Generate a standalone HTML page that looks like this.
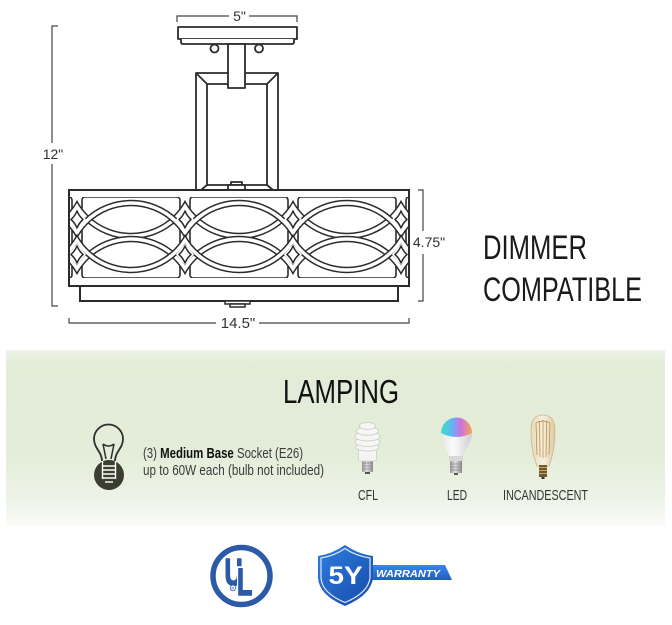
<!DOCTYPE html>
<html>
<head>
<meta charset="utf-8">
<style>
  html,body{margin:0;padding:0;background:#fff;}
  svg{display:block;}
  text{font-family:"Liberation Sans", sans-serif;}
</style>
</head>
<body>
<svg width="672" height="625" viewBox="0 0 672 625" xmlns="http://www.w3.org/2000/svg">
  <defs>
    <linearGradient id="green" x1="0" y1="0" x2="0" y2="1">
      <stop offset="0" stop-color="#eef3e8"/>
      <stop offset="0.08" stop-color="#e2ecd7"/>
      <stop offset="0.6" stop-color="#e4edd9"/>
      <stop offset="0.85" stop-color="#edf3e7"/>
      <stop offset="1" stop-color="#fbfcf9"/>
    </linearGradient>
    <clipPath id="band"><rect x="70" y="197" width="338" height="81"/></clipPath>
    <clipPath id="p0"><rect x="-31" y="190" width="108" height="96"/></clipPath>
    <clipPath id="p1"><rect x="77" y="190" width="108" height="96"/></clipPath>
    <clipPath id="p2"><rect x="185" y="190" width="108" height="96"/></clipPath>
    <clipPath id="p3"><rect x="293" y="190" width="108" height="96"/></clipPath>
    <clipPath id="p4"><rect x="401" y="190" width="108" height="96"/></clipPath>
    <g id="rings" fill="none">
      <circle cx="0" cy="172" r="64" stroke="#2b2b2b" stroke-width="6.5"/><circle cx="0" cy="172" r="64" stroke="#fff" stroke-width="3.5"/>
      <circle cx="0" cy="303" r="64" stroke="#2b2b2b" stroke-width="6.5"/><circle cx="0" cy="303" r="64" stroke="#fff" stroke-width="3.5"/>
      <circle cx="0" cy="267" r="64" stroke="#2b2b2b" stroke-width="6.5"/><circle cx="0" cy="267" r="64" stroke="#fff" stroke-width="3.5"/>
      <circle cx="0" cy="206" r="64" stroke="#2b2b2b" stroke-width="6.5"/><circle cx="0" cy="206" r="64" stroke="#fff" stroke-width="3.5"/>
    </g>
    <g id="diacover" fill="#fff">
      <polygon points="-9,219.5 0,209.5 9,219.5 0,229.5"/>
      <polygon points="-9,254.5 0,244 9,254.5 0,265"/>
    </g>
    <g id="dia" fill="#fff" stroke="#2b2b2b" stroke-width="1.5" stroke-linejoin="round">
      <path d="M-6,219.5 Q-2,216 0,211 Q2,216 6,219.5 Q2,223 0,228 Q-2,223 -6,219.5 Z"/>
      <path d="M-6,254.5 Q-2,251 0,246 Q2,251 6,254.5 Q2,258 0,263 Q-2,258 -6,254.5 Z"/>
    </g>
    <linearGradient id="rainbow" x1="0" y1="0" x2="1" y2="0">
      <stop offset="0" stop-color="#3fe0c0"/>
      <stop offset="0.35" stop-color="#5fb6f6"/>
      <stop offset="0.65" stop-color="#d070e0"/>
      <stop offset="1" stop-color="#f6a850"/>
    </linearGradient>
    <linearGradient id="ledbody" x1="0" y1="0" x2="1" y2="0">
      <stop offset="0" stop-color="#e6e6e6"/>
      <stop offset="0.4" stop-color="#fbfbfb"/>
      <stop offset="1" stop-color="#cfcfcf"/>
    </linearGradient>
    <linearGradient id="metal" x1="0" y1="0" x2="1" y2="0">
      <stop offset="0" stop-color="#9a9a9a"/>
      <stop offset="0.45" stop-color="#e0e0e0"/>
      <stop offset="1" stop-color="#8a8a8a"/>
    </linearGradient>
    <linearGradient id="glass" x1="0" y1="0" x2="1" y2="0">
      <stop offset="0" stop-color="#e6d9bd"/>
      <stop offset="0.5" stop-color="#f7efde"/>
      <stop offset="1" stop-color="#dccaa4"/>
    </linearGradient>
    <linearGradient id="shield" x1="0" y1="0" x2="1" y2="1">
      <stop offset="0" stop-color="#2f7fe0"/>
      <stop offset="1" stop-color="#164aa8"/>
    </linearGradient>
    <linearGradient id="banner" x1="0" y1="0" x2="0" y2="1">
      <stop offset="0" stop-color="#3b86e6"/>
      <stop offset="1" stop-color="#1f5fc4"/>
    </linearGradient>
  </defs>

  <!-- ===== Fixture drawing ===== -->
  <g stroke="#2b2b2b" stroke-width="1.8" fill="none" stroke-linejoin="round">
    <rect x="178" y="27" width="119" height="12" fill="#fff"/>
    <path d="M181,39 L181,42 Q181,44 183,44 L292,44 Q294,44 294,42 L294,39" fill="#fff"/>
    <circle cx="214.5" cy="48.5" r="4" fill="#fff"/>
    <circle cx="259" cy="48.5" r="4" fill="#fff"/>
    <rect x="196" y="73" width="82" height="117" fill="#fff"/>
    <rect x="207" y="84" width="60" height="101"/>
    <line x1="196" y1="73" x2="207" y2="84"/>
    <line x1="278" y1="73" x2="267" y2="84"/>
    <line x1="207" y1="185" x2="201" y2="190"/>
    <line x1="267" y1="185" x2="273" y2="190"/>
    <rect x="228" y="44" width="17" height="44" fill="#fff"/>
    <rect x="231" y="182" width="11" height="3" fill="#fff"/>
    <rect x="228" y="185" width="17" height="5" fill="#fff"/>
  </g>

  <!-- drum -->
  <rect x="69" y="190" width="340" height="96" fill="#fff"/>
  <g clip-path="url(#band)">
    <g fill="none" stroke="#2b2b2b" stroke-width="1.6">
      <rect x="-26" y="197" width="98" height="81" rx="3"/>
      <rect x="82" y="197" width="98" height="81" rx="3"/>
      <rect x="190" y="197" width="98" height="81" rx="3"/>
      <rect x="298" y="197" width="98" height="81" rx="3"/>
      <rect x="406" y="197" width="98" height="81" rx="3"/>
    </g>
    <g clip-path="url(#p0)"><use href="#rings" x="23"/></g>
    <g clip-path="url(#p1)"><use href="#rings" x="131"/></g>
    <g clip-path="url(#p2)"><use href="#rings" x="239"/></g>
    <g clip-path="url(#p3)"><use href="#rings" x="347"/></g>
    <g clip-path="url(#p4)"><use href="#rings" x="455"/></g>
    <use href="#diacover" x="77"/>
    <use href="#diacover" x="185"/>
    <use href="#diacover" x="293"/>
    <use href="#diacover" x="401"/>
    <use href="#dia" x="77"/>
    <use href="#dia" x="185"/>
    <use href="#dia" x="293"/>
    <use href="#dia" x="401"/>
  </g>
  <g stroke="#2b2b2b" stroke-width="2" fill="none">
    <rect x="69" y="190" width="340" height="96"/>
    <rect x="80" y="286" width="318" height="15" fill="#fff"/>
    <rect x="225" y="301" width="25" height="3" fill="#fff" stroke-width="1.5"/>
    <rect x="230" y="304" width="15" height="3" fill="#fff" stroke-width="1.5"/>
  </g>

  <!-- dimension lines -->
  <g stroke="#444" stroke-width="1.2" fill="none">
    <path d="M177,22 L177,16 L229,16 M249,16 L297,16 L297,22"/>
    <path d="M58,26 L52,26 L52,143 M52,164 L52,306 L58,306"/>
    <path d="M418,190 L423,190 L423,231 M423,254 L423,301 L418,301"/>
    <path d="M69,318 L69,323 L216,323 M259,323 L409,323 L409,318"/>
  </g>
  <g fill="#333" font-size="14" text-anchor="middle">
    <text x="239.5" y="21">5"</text>
    <text x="53" y="159">12"</text>
    <text x="429" y="247">4.75"</text>
    <text x="238" y="328" font-size="15">14.5"</text>
  </g>

  <!-- DIMMER COMPATIBLE -->
  <g fill="#1a1a1a" font-size="34">
    <text x="483" y="259" textLength="104" lengthAdjust="spacingAndGlyphs">DIMMER</text>
    <text x="483" y="301" textLength="159" lengthAdjust="spacingAndGlyphs">COMPATIBLE</text>
  </g>

  <!-- ===== Lamping section ===== -->
  <rect x="6" y="350" width="659" height="176" fill="url(#green)"/>
  <text x="283" y="403" font-size="33" fill="#111" textLength="116" lengthAdjust="spacingAndGlyphs">LAMPING</text>

  <g>
    <path d="M102,461 C102,452 94,448 94,439 A14.5,14.5 0 1 1 123,439 C123,448 115,452 115,461" fill="none" stroke="#2e2e2e" stroke-width="1.8"/>
    <path d="M103,444 L106,459 M114,444 L111,459 M103,444 Q108.5,448 114,444" fill="none" stroke="#2e2e2e" stroke-width="1.5"/>
    <circle cx="109" cy="475" r="15" fill="#3a3d2f"/>
    <g stroke="#fff" stroke-width="1.4" fill="none">
      <path d="M102.5,461 L102.5,479 M115.5,461 L115.5,479"/>
      <path d="M102.5,466 L115.5,466 M102.5,470 L115.5,470 M102.5,474 L115.5,474 M102.5,478 L115.5,478"/>
      <path d="M105,482 L113,482"/>
    </g>
  </g>
  <text x="143" y="458" font-size="14.5" fill="#3a3a3a" textLength="160" lengthAdjust="spacingAndGlyphs">(3) <tspan font-weight="bold" fill="#111">Medium Base</tspan> Socket (E26)</text>
  <text x="143" y="475" font-size="14.5" fill="#3a3a3a" textLength="181" lengthAdjust="spacingAndGlyphs">up to 60W each (bulb not included)</text>

  <!-- CFL -->
  <g>
    <rect x="362" y="460" width="11" height="12" fill="url(#metal)"/>
    <path d="M362,463 L373,463 M362,466 L373,466 M362,469 L373,469" stroke="#888" stroke-width="0.8"/>
    <rect x="365" y="472" width="5" height="2" fill="#555"/>
    <rect x="358.5" y="449" width="18" height="12" rx="2" fill="#f4f4f2" stroke="#cfcfcb" stroke-width="0.8"/>
    <g fill="#f6f6f4" stroke="#cacac6" stroke-width="0.8">
      <ellipse cx="367.5" cy="447" rx="11.5" ry="4"/>
      <ellipse cx="367.5" cy="442" rx="12.5" ry="4.5"/>
      <ellipse cx="367.5" cy="436.5" rx="12.5" ry="4.5"/>
      <ellipse cx="367.5" cy="431" rx="11" ry="4.2"/>
      <ellipse cx="367.5" cy="426" rx="8" ry="3.5"/>
    </g>
  </g>
  <!-- LED -->
  <g>
    <path d="M441,433 A15.5,15.5 0 1 1 472,433 C472,443 465,448 463,456 L449,456 C447,448 441,443 441,433 Z" fill="url(#ledbody)"/>
    <path d="M441,433 A15.5,15.5 0 1 1 472,433 Q456.5,441 441,433 Z" fill="url(#rainbow)"/>
    <rect x="449" y="456" width="14" height="5" fill="#d8d8d8"/>
    <rect x="450" y="461" width="12" height="12" fill="url(#metal)"/>
    <path d="M450,464 L462,464 M450,467 L462,467 M450,470 L462,470" stroke="#888" stroke-width="0.8"/>
    <rect x="454" y="473" width="4" height="2" fill="#555"/>
  </g>
  <!-- Incandescent -->
  <g>
    <path d="M537,466 C533,455 531,445 531,430 C531,419 536,415 543,415 C550,415 555,419 555,430 C555,445 553,455 549,466 Z" fill="url(#glass)" stroke="#cbb98f" stroke-width="0.8"/>
    <g stroke="#b8843a" stroke-width="0.7" fill="none">
      <path d="M536,423 L537,455 M539.5,421 L540,457 M543,420 L543,458 M546.5,421 L546,457 M550,423 L549,455"/>
      <path d="M536,423 Q543,419 550,423"/>
    </g>
    <rect x="539" y="465" width="8" height="12" fill="#6b5a35"/>
    <path d="M539,467.5 L547,467.5 M539,470.5 L547,470.5 M539,473.5 L547,473.5" stroke="#c9a452" stroke-width="1"/>
    <rect x="541.5" y="477" width="3" height="2" fill="#333"/>
  </g>
  <g font-size="15" fill="#333">
    <text x="358" y="500" textLength="20" lengthAdjust="spacingAndGlyphs">CFL</text>
    <text x="447" y="500" textLength="20" lengthAdjust="spacingAndGlyphs">LED</text>
    <text x="503" y="500" textLength="85" lengthAdjust="spacingAndGlyphs">INCANDESCENT</text>
  </g>

  <!-- ===== UL logo ===== -->
  <g>
    <circle cx="241.5" cy="576" r="28.5" fill="#fff" stroke="#2b5aa8" stroke-width="5.5"/>
    <text transform="translate(224.5,585) scale(0.66,1)" font-size="38" font-weight="bold" fill="#2b5aa8" stroke="#2b5aa8" stroke-width="1.5" stroke-linejoin="round">U</text>
    <text transform="translate(237,595) scale(0.66,1)" font-size="38" font-weight="bold" fill="#fff" stroke="#fff" stroke-width="5">L</text>
    <text transform="translate(237,595) scale(0.66,1)" font-size="38" font-weight="bold" fill="#2b5aa8" stroke="#2b5aa8" stroke-width="1.5" stroke-linejoin="round">L</text>
    <circle cx="233" cy="588" r="2.8" fill="#fff" stroke="#2b5aa8" stroke-width="0.7"/>
    <text x="233" y="590" font-size="4.5" fill="#2b5aa8" text-anchor="middle">R</text>
  </g>

  <!-- ===== Warranty shield ===== -->
  <g>
    <path d="M362,565 L445,565 L452,580 L362,580 Z" fill="url(#banner)"/>
    <text x="376" y="577" font-size="10.5" font-weight="bold" font-style="italic" fill="#fff" textLength="64" lengthAdjust="spacingAndGlyphs">WARRANTY</text>
    <path d="M318,556 Q332,554 345,545 Q358,554 373,556 L373,578 Q371,595 345,606 Q319,595 318,578 Z" fill="url(#shield)"/>
    <path d="M321,558 Q334,556 345,548.5 Q356,556 370,558 L370,578 Q368,593 345,602.5 Q322,593 321,578 Z" fill="none" stroke="#fff" stroke-width="1.2" opacity="0.85"/>
    <text x="345.5" y="584" font-size="25" font-weight="bold" fill="#fff" text-anchor="middle" textLength="34" lengthAdjust="spacingAndGlyphs">5Y</text>
  </g>
</svg>
</body>
</html>
